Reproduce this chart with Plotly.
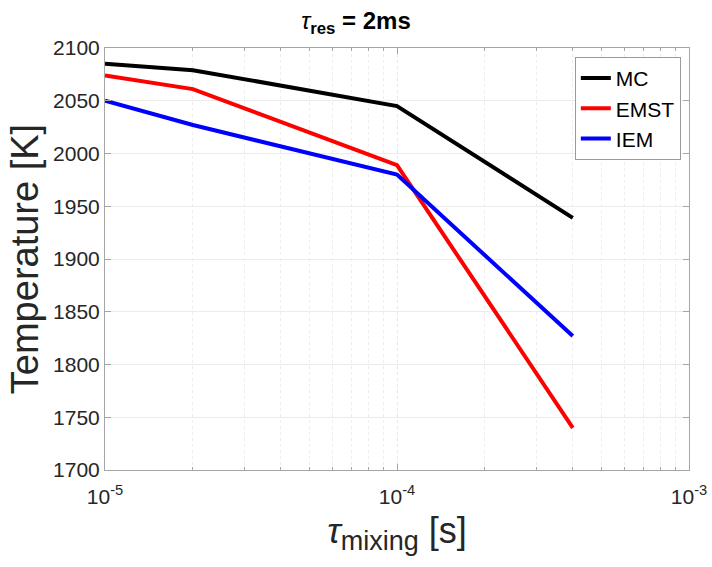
import plotly.graph_objects as go

# Mixing time (s) and mean temperature (K) for each mixing model
tau_mix = [1e-5, 2e-5, 1e-4, 4e-4]
temp_mc = [2085, 2079, 2045, 1939]
temp_emst = [2074, 2061, 1989, 1740]
temp_iem = [2050, 2027, 1980, 1827]

series = [("MC", temp_mc, "#000000"),
          ("EMST", temp_emst, "#ff0000"),
          ("IEM", temp_iem, "#0000ff")]

x_major = [1e-5, 1e-4, 1e-3]
x_major_text = ["10<sup>-5</sup>", "10<sup>-4</sup>", "10<sup>-3</sup>"]
x_minor = [m * d for d in (1e-5, 1e-4) for m in range(2, 10)]
y_ticks = list(range(1700, 2101, 50))

fig = go.Figure()
for name, vals, color in series:
    fig.add_trace(go.Scatter(x=tau_mix, y=vals, mode="lines", name=name,
                             line=dict(color=color, width=4)))

font = "Liberation Sans, Arial, Helvetica, sans-serif"
axis_col = "#a6a6a6"

fig.update_layout(
    width=712, height=567,
    margin=dict(l=105, r=23, t=48, b=97),
    paper_bgcolor="white", plot_bgcolor="white",
    font=dict(family=font, color="#262626"),
    title=dict(text="<i>τ</i><b><sub>res</sub> = 2ms</b>", x=0.5, xanchor="center",
               y=0.978, yanchor="top", font=dict(size=24, color="#000000")),
    legend=dict(x=0.986, y=0.979, xanchor="right", yanchor="top",
                bgcolor="white", bordercolor="#9a9a9a", borderwidth=1,
                font=dict(size=21, color="#000000"), itemwidth=30,
                tracegroupgap=0),
    showlegend=True,
)

fig.update_xaxes(
    type="log", range=[-5, -3], automargin=False,
    tickmode="array", tickvals=x_major, ticktext=x_major_text,
    tickfont=dict(size=21, color="#262626"), ticklabelstandoff=8,
    showgrid=True, gridcolor="#e6e6e6", griddash="dot", gridwidth=1,
    ticks="inside", ticklen=6, tickcolor=axis_col,
    minor=dict(tickmode="array", tickvals=x_minor, ticks="inside", ticklen=3,
               tickcolor=axis_col, showgrid=True, gridcolor="#ececec", griddash="dot"),
    showline=True, linecolor=axis_col, linewidth=1, mirror="ticks",
    zeroline=False,
    title=dict(text="<i>τ</i><sub><span style='font-size:27px'>mixing</span></sub> [s]",
               font=dict(size=36, color="#262626"), standoff=10),
)

fig.update_yaxes(
    range=[1700, 2100], automargin=False,
    tickmode="array", tickvals=y_ticks,
    tickfont=dict(size=21, color="#262626"),
    showgrid=True, gridcolor="#ebebeb", gridwidth=1,
    ticks="inside", ticklen=6, tickcolor=axis_col,
    showline=True, linecolor=axis_col, linewidth=1, mirror="ticks",
    zeroline=False,
    title=dict(text="Temperature [K]", font=dict(size=38, color="#262626"), standoff=2),
)

fig.write_html("out.html")
